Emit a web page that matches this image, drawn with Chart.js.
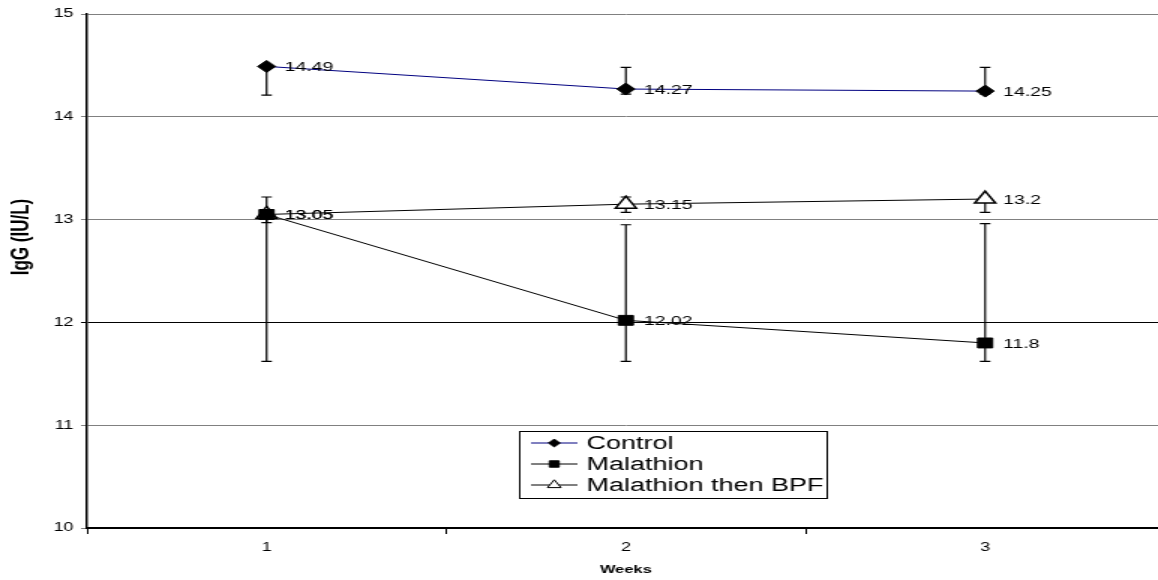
<!DOCTYPE html>
<html>
<head>
<meta charset="utf-8">
<script src="https://cdn.jsdelivr.net/npm/chart.js@4.4.1/dist/chart.umd.min.js"></script>
<style>
  html, body { margin: 0; padding: 0; background: #fff; overflow: hidden; }
  /* the source picture is an Excel chart stretched sideways, so stretch ours too */
  .chart-wrap {
    position: relative;
    width: 786px;
    height: 580px;
    transform: scaleX(1.5);
    transform-origin: 0 0;
  }
</style>
</head>
<body>
<div class="chart-wrap"><canvas id="chart"></canvas></div>
<script>
const WEEKS = ["1", "2", "3"];

const CONTROL = [14.49, 14.27, 14.25];
const MALATHION = [13.05, 12.02, 11.8];
const MALATHION_BPF = [13.05, 13.15, 13.2];

// error bar ends
const CONTROL_HIGH = [14.49, 14.48, 14.48];
const CONTROL_LOW = [14.21, 14.22, 14.22];
const MALATHION_HIGH = [13.05, 12.95, 12.96];
const MALATHION_LOW = [11.62, 11.62, 11.62];
const MALATHION_BPF_HIGH = [13.22, 13.22, 13.22];
const MALATHION_BPF_LOW = [12.97, 13.07, 13.07];

const Y_MIN = 10;
const Y_MAX = 15;

const ERRORS = [
  { high: CONTROL_HIGH, low: CONTROL_LOW },
  { high: MALATHION_HIGH, low: MALATHION_LOW },
  { high: MALATHION_BPF_HIGH, low: MALATHION_BPF_LOW },
];

const errorBarsPlugin = {
  id: "errorBars",
  beforeDatasetsDraw(chart) {
    const { ctx } = chart;
    const x = chart.scales.x;
    const y = chart.scales.y;
    ctx.save();
    ctx.strokeStyle = "#000";
    ctx.lineWidth = 1.2;
    ERRORS.forEach((err) => {
      WEEKS.forEach((week, i) => {
        const px = x.getPixelForValue(i);
        const top = y.getPixelForValue(err.high[i]);
        const bottom = y.getPixelForValue(err.low[i]);
        ctx.beginPath();
        ctx.moveTo(px, top);
        ctx.lineTo(px, bottom);
        ctx.stroke();
        ctx.beginPath();
        ctx.moveTo(px - 3.5, bottom);
        ctx.lineTo(px + 3.5, bottom);
        if (err.high[i] !== err.low[i]) {
          ctx.moveTo(px - 3.5, top);
          ctx.lineTo(px + 3.5, top);
        }
        ctx.stroke();
      });
    });
    ctx.restore();
  },
};

const valueLabelsPlugin = {
  id: "valueLabels",
  afterDatasetsDraw(chart) {
    const { ctx } = chart;
    ctx.save();
    ctx.font = "13px Arial, 'Liberation Sans', sans-serif";
    ctx.fillStyle = "#000";
    ctx.textAlign = "left";
    ctx.textBaseline = "middle";
    chart.data.datasets.forEach((dataset, d) => {
      chart.getDatasetMeta(d).data.forEach((point, i) => {
        ctx.fillText(String(dataset.data[i]), point.x + 12, point.y + 1);
      });
    });
    ctx.restore();
  },
};

const boxLegendPlugin = {
  id: "boxLegend",
  afterDraw(chart) {
    const { ctx } = chart;
    const left = 346;
    const top = 431;
    const width = 205;
    const rowHeight = 21;
    ctx.save();
    ctx.fillStyle = "#fff";
    ctx.fillRect(left, top, width, 67);
    ctx.strokeStyle = "#000";
    ctx.lineWidth = 1;
    ctx.strokeRect(left + 0.5, top + 0.5, width, 67);
    ctx.font = "18px Arial, 'Liberation Sans', sans-serif";
    ctx.textBaseline = "middle";
    chart.data.datasets.forEach((dataset, i) => {
      const cy = top + 12 + i * rowHeight;
      ctx.strokeStyle = dataset.borderColor;
      ctx.lineWidth = 1;
      ctx.beginPath();
      ctx.moveTo(354, cy);
      ctx.lineTo(385, cy);
      ctx.stroke();
      ctx.fillStyle = dataset.pointBackgroundColor;
      ctx.strokeStyle = "#000";
      ctx.lineWidth = 1;
      Chart.helpers.drawPoint(
        ctx,
        { pointStyle: dataset.pointStyle, radius: dataset.pointRadius * 0.65, borderWidth: 1 },
        369.5,
        cy,
      );
      ctx.fillStyle = "#000";
      ctx.fillText(dataset.label, 391, cy + 1);
    });
    ctx.restore();
  },
};

const yTitlePlugin = {
  id: "yTitle",
  afterDraw(chart) {
    const { ctx } = chart;
    ctx.save();
    ctx.translate(14, 237);
    ctx.rotate(-Math.PI / 2);
    ctx.font = "bold 17px Arial, 'Liberation Sans', sans-serif";
    ctx.fillStyle = "#000";
    ctx.textAlign = "center";
    ctx.textBaseline = "middle";
    ctx.fillText("IgG (IU/L)", 0, 0);
    ctx.restore();
  },
};

new Chart(document.getElementById("chart").getContext("2d"), {
  type: "line",
  data: {
    labels: WEEKS,
    datasets: [
      {
        label: "Control",
        data: CONTROL,
        borderColor: "#000080",
        borderWidth: 1,
        pointStyle: "rectRot",
        pointRadius: 6,
        pointBackgroundColor: "#000",
        pointBorderColor: "#000",
        pointBorderWidth: 1,
        tension: 0,
      },
      {
        label: "Malathion",
        data: MALATHION,
        borderColor: "#000",
        borderWidth: 1,
        pointStyle: "rect",
        pointRadius: 7,
        pointBackgroundColor: "#000",
        pointBorderColor: "#000",
        pointBorderWidth: 1,
        tension: 0,
      },
      {
        label: "Malathion then BPF",
        data: MALATHION_BPF,
        borderColor: "#000",
        borderWidth: 1,
        pointStyle: "triangle",
        pointRadius: 8,
        pointBackgroundColor: "#fff",
        pointBorderColor: "#000",
        pointBorderWidth: 1.5,
        tension: 0,
      },
    ],
  },
  options: {
    responsive: true,
    maintainAspectRatio: false,
    animation: false,
    layout: { padding: { top: 14, right: 2, left: 0, bottom: 0 } },
    plugins: {
      legend: { display: false },
      tooltip: { enabled: false },
    },
    scales: {
      x: {
        offset: true,
        afterFit: (scale) => {
          scale.height = 52;
        },
        grid: {
          offset: true,
          drawOnChartArea: false,
          color: "#000",
          tickLength: 6,
        },
        border: { color: "#000", width: 2 },
        ticks: {
          color: "#000",
          padding: 6,
          font: { family: "Arial, 'Liberation Sans', sans-serif", size: 12 },
        },
        title: {
          display: true,
          text: "Weeks",
          color: "#000",
          padding: { top: 0, bottom: 3 },
          font: { family: "Arial, 'Liberation Sans', sans-serif", size: 11, weight: "bold" },
        },
      },
      y: {
        min: Y_MIN,
        max: Y_MAX,
        afterFit: (scale) => {
          scale.width = 58;
        },
        grid: {
          color: (context) => (context.tick.value === 12 ? "#000" : "#808080"),
          lineWidth: 1,
          tickLength: 4,
        },
        border: { color: "#000", width: 1.5 },
        ticks: {
          stepSize: 1,
          color: "#000",
          padding: 5,
          font: { family: "Arial, 'Liberation Sans', sans-serif", size: 12 },
        },
      },
    },
  },
  plugins: [errorBarsPlugin, valueLabelsPlugin, boxLegendPlugin, yTitlePlugin],
});
</script>
</body>
</html>
